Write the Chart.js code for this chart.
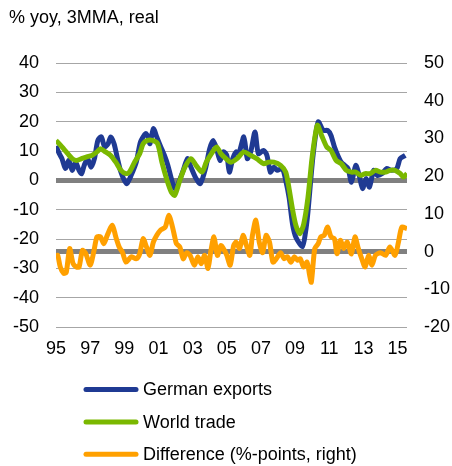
<!DOCTYPE html>
<html>
<head>
<meta charset="utf-8">
<script src="https://cdn.jsdelivr.net/npm/chart.js@4"></script>
<style>
  body { margin: 0; background: #fff; }
  canvas { display: block; }
</style>
</head>
<body>
<canvas id="tradeChart" width="452" height="466"></canvas>
<script>
// Years labelled on the x axis (shown as two digits)
const yearTicks = [1995, 1997, 1999, 2001, 2003, 2005, 2007, 2009, 2011, 2013, 2015];

// [year, % yoy], left axis
const germanExports = [
  [1995.0, 11.7], [1995.2, 9.0], [1995.35, 7.4], [1995.55, 4.0], [1995.75, 6.8], [1995.95, 3.4],
  [1996.15, 6.2], [1996.35, 3.4], [1996.5, 2.3], [1996.65, 5.1], [1996.85, 7.4], [1997.05, 4.5],
  [1997.25, 7.4], [1997.45, 13.6], [1997.65, 14.8], [1997.85, 11.4], [1998.05, 12.5], [1998.2, 14.8],
  [1998.4, 12.5], [1998.6, 7.4], [1998.8, 2.8], [1999.0, 0], [1999.15, -1.1], [1999.4, 1.7],
  [1999.7, 6.2], [1999.95, 13.1], [2000.25, 15.9], [2000.4, 14.8], [2000.5, 12.5], [2000.7, 17.6],
  [2000.9, 14.8], [2001.1, 11.9], [2001.35, 8.5], [2001.55, 5.1], [2001.75, 0.6], [2001.95, -2.8],
  [2002.15, -1.1], [2002.45, 3.4], [2002.7, 7.4], [2002.9, 4.5], [2003.2, 0.6], [2003.45, -1.1],
  [2003.75, 4.0], [2004.0, 10.8], [2004.2, 13.6], [2004.4, 10.8], [2004.6, 6.8], [2004.8, 9.7],
  [2005.0, 8.5], [2005.15, 2.8], [2005.35, 7.4], [2005.55, 9.7], [2005.7, 9.1], [2006.0, 14.8],
  [2006.2, 7.4], [2006.4, 9.7], [2006.65, 16.5], [2006.85, 9.1], [2007.15, 10.2], [2007.35, 8.5],
  [2007.55, 2.8], [2007.75, 4.5], [2007.95, 3.4], [2008.25, 4.0], [2008.45, 0], [2008.65, -6],
  [2008.85, -15], [2009.05, -19.5], [2009.43, -22.6], [2009.6, -18], [2009.75, -10.8], [2010.05, 8.5],
  [2010.35, 19.9], [2010.65, 17.0], [2010.9, 17.0], [2011.1, 15.3], [2011.3, 11.4], [2011.5, 8.5],
  [2011.7, 6.2], [2011.9, 5.1], [2012.1, 4.0], [2012.3, -0.6], [2012.55, 5.1], [2012.75, 1.7],
  [2012.95, -2.8], [2013.15, 0.6], [2013.35, -2.3], [2013.6, 3.4], [2013.8, 1.7], [2014.1, 2.3],
  [2014.35, 4.0], [2014.65, 3.4], [2014.95, 4.0], [2015.15, 7.4], [2015.45, 8.5]
];

const worldTrade = [
  [1995.0, 13.6], [1995.35, 11.4], [1995.6, 9.7], [1995.95, 7.4], [1996.2, 6.8], [1996.5, 7.4],
  [1996.8, 8.0], [1997.1, 8.5], [1997.4, 9.7], [1997.6, 10.8], [1997.9, 9.7], [1998.2, 8.5],
  [1998.5, 6.2], [1998.8, 3.4], [1999.1, 2.3], [1999.3, 2.8], [1999.6, 6.2], [1999.9, 9.1],
  [2000.1, 12.5], [2000.35, 13.6], [2000.65, 13.6], [2000.95, 12.5], [2001.2, 6.2], [2001.5, 0],
  [2001.75, -4.0], [2001.95, -5.1], [2002.25, 0], [2002.55, 4.5], [2002.9, 7.4], [2003.2, 5.1],
  [2003.55, 2.8], [2003.8, 6.2], [2004.1, 9.1], [2004.4, 11.4], [2004.65, 9.1], [2004.95, 7.4],
  [2005.25, 6.2], [2005.6, 7.4], [2006.0, 9.7], [2006.4, 8.5], [2006.75, 7.4], [2007.15, 5.7],
  [2007.45, 6.2], [2007.75, 6.2], [2008.15, 5.1], [2008.45, 2.8], [2008.65, -3], [2008.85, -10],
  [2009.05, -15.5], [2009.27, -18.2], [2009.5, -15], [2009.75, -6], [2010.0, 8], [2010.3, 18.8],
  [2010.55, 15.3], [2010.85, 11.4], [2011.1, 10.2], [2011.4, 6.8], [2011.7, 5.7], [2012.0, 3.4],
  [2012.3, 2.8], [2012.55, 2.8], [2012.85, 1.7], [2013.1, 2.3], [2013.4, 2.3], [2013.7, 3.4],
  [2014.0, 2.8], [2014.3, 2.8], [2014.55, 3.4], [2014.85, 3.4], [2015.15, 2.3], [2015.35, 1.1],
  [2015.55, 2.3]
];

// [year, %-points] right axis
const difference = [
  [1995.0, -1.9], [1995.1, -1.0], [1995.25, -4.1], [1995.45, -5.8], [1995.6, -5.5], [1995.8, 0.8],
  [1996.0, -3.2], [1996.2, -4.1], [1996.35, -4.1], [1996.55, 0.3], [1996.75, -0.6], [1997.0, -3.6],
  [1997.2, -0.3], [1997.4, 3.9], [1997.6, 3.9], [1997.8, 2.1], [1998.0, 4.3], [1998.3, 7.0],
  [1998.5, 3.9], [1998.7, 1.2], [1998.9, -0.3], [1999.1, -2.8], [1999.4, -1.4], [1999.7, -1.9],
  [1999.9, -0.6], [2000.1, 3.4], [2000.3, 1.2], [2000.5, -1.0], [2000.7, 2.5], [2000.9, 4.3],
  [2001.1, 5.6], [2001.4, 6.5], [2001.6, 9.6], [2001.8, 6.9], [2001.95, 3.9], [2002.05, 2.1],
  [2002.25, 1.2], [2002.45, -1.9], [2002.65, -0.3], [2002.85, -1.0], [2003.1, -3.6], [2003.3, -1.4],
  [2003.5, -3.2], [2003.7, -1.0], [2003.9, -4.5], [2004.05, -0.3], [2004.25, 3.9], [2004.45, -1.0],
  [2004.65, 1.6], [2004.8, 0.8], [2005.0, -1.0], [2005.2, -3.6], [2005.4, 1.6], [2005.55, 2.5],
  [2005.75, 0.8], [2005.95, 4.3], [2006.15, 1.6], [2006.35, -1.0], [2006.5, 4.3], [2006.7, 8.3],
  [2006.9, 2.5], [2007.1, -0.3], [2007.3, 4.3], [2007.5, 2.5], [2007.7, -2.8], [2007.9, -1.9],
  [2008.15, -0.3], [2008.35, -1.9], [2008.55, -1.4], [2008.75, -2.8], [2008.95, -1.4], [2009.15, -2.3],
  [2009.3, -1.9], [2009.5, -4.1], [2009.7, -2.8], [2009.85, -6.3], [2009.95, -8.1], [2010.15, 0.8],
  [2010.35, 2.1], [2010.5, 3.9], [2010.7, 4.3], [2010.9, 6.5], [2011.1, 3.9], [2011.3, 3.4],
  [2011.45, -0.6], [2011.65, 3.0], [2011.85, 0.8], [2012.05, 2.5], [2012.3, -0.6], [2012.5, 3.9],
  [2012.7, 0.8], [2012.9, -1.9], [2013.1, -4.1], [2013.3, -1.0], [2013.5, -3.6], [2013.7, -1.0],
  [2014.0, -0.3], [2014.3, -1.0], [2014.55, 1.2], [2014.85, -1.0], [2015.05, 2.5], [2015.25, 6.5],
  [2015.55, 6.1]
];

const FONT = "'Liberation Sans', Arial, sans-serif";
const ZERO_GREY = '#808080';

const toPoints = (arr) => arr.map(([x, y]) => ({ x, y }));

// Title and the stacked line legend are drawn straight onto the canvas
const extras = {
  id: 'extras',
  afterDraw(chart) {
    const c = chart.ctx;
    c.save();
    c.font = '18px ' + FONT;
    c.fillStyle = '#000';
    c.textBaseline = 'alphabetic';
    c.fillText('% yoy, 3MMA, real', 9, 23);

    c.textBaseline = 'middle';
    c.lineCap = 'round';
    c.lineWidth = 5;
    chart.data.datasets.forEach((ds, i) => {
      const y = 389.5 + i * 32.4;
      c.strokeStyle = ds.borderColor;
      c.beginPath();
      c.moveTo(86, y);
      c.lineTo(136, y);
      c.stroke();
      c.fillText(ds.label, 143, y + 1);
    });
    c.restore();
  }
};

const ctx = document.getElementById('tradeChart').getContext('2d');

const chart = new Chart(ctx, {
  type: 'line',
  data: {
    datasets: [
      { label: 'German exports', data: toPoints(germanExports), borderColor: '#1f3a93', yAxisID: 'y', order: 2 },
      { label: 'World trade', data: toPoints(worldTrade), borderColor: '#7ab800', yAxisID: 'y', order: 1 },
      { label: 'Difference (%-points, right)', data: toPoints(difference), borderColor: '#ffa000', yAxisID: 'y1', order: 0 }
    ]
  },
  options: {
    responsive: false,
    animation: false,
    layout: { padding: { top: 63, left: 0, right: 0, bottom: 0 } },
    elements: {
      point: { radius: 0 },
      line: { borderWidth: 5, tension: 0.25, fill: false }
    },
    plugins: {
      legend: { display: false },
      tooltip: { enabled: false }
    },
    scales: {
      x: {
        type: 'linear',
        min: 1995,
        max: 2015.55,
        grid: { display: false, drawTicks: false },
        border: { display: false },
        afterBuildTicks: (scale) => { scale.ticks = yearTicks.map((v) => ({ value: v })); },
        afterFit: (scale) => { scale.height = 139; },
        ticks: {
          autoSkip: false,
          maxRotation: 0,
          padding: 11,
          color: '#000',
          font: { family: FONT, size: 18 },
          callback: (v) => String(v % 100).padStart(2, '0')
        }
      },
      y: {
        position: 'left',
        min: -50,
        max: 40,
        grid: {
          drawTicks: false,
          color: (c) => (c.tick.value === 0 ? ZERO_GREY : '#a6a6a6'),
          lineWidth: (c) => (c.tick.value === 0 ? 5 : 1)
        },
        border: { display: false },
        afterFit: (scale) => { scale.width = 56; },
        ticks: { stepSize: 10, padding: 17, color: '#000', font: { family: FONT, size: 18 } }
      },
      y1: {
        position: 'right',
        min: -20,
        max: 50,
        grid: {
          drawTicks: false,
          color: (c) => (c.tick.value === 0 ? ZERO_GREY : 'rgba(0,0,0,0)'),
          lineWidth: (c) => (c.tick.value === 0 ? 5 : 1)
        },
        border: { display: false },
        afterFit: (scale) => { scale.width = 45; },
        ticks: { stepSize: 10, padding: 17, color: '#000', font: { family: FONT, size: 18 } }
      }
    }
  },
  plugins: [extras]
});
</script>
</body>
</html>
